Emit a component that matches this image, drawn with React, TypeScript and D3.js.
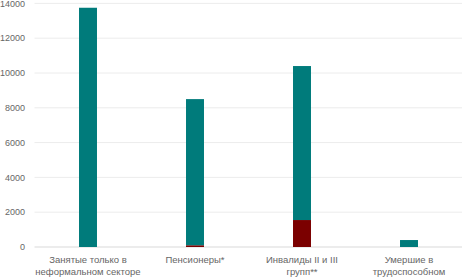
import React from 'react';
import { scaleLinear, scaleBand, stack, range } from 'd3';

const categories = [
  ['Занятые только в', 'неформальном секторе'],
  ['Пенсионеры*'],
  ['Инвалиды II и III', 'групп**'],
  ['Умершие в', 'трудоспособном'],
];
const redValues = [0, 100, 1550, 0];
const tealValues = [13750, 8400, 8850, 400];
const yTicks = [0, 2000, 4000, 6000, 8000, 10000, 12000, 14000];

const width = 462;
const height = 278;
const left = 34.5;
const top = 3.4;
const bottom = 247;

const App = () => {
  const rows = categories.map((c, i) => ({ key: i, red: redValues[i], teal: tealValues[i] }));
  const series = stack<any>().keys(['red', 'teal'])(rows);
  const colors: Record<string, string> = { red: '#7b0000', teal: '#007b7b' };

  const x = scaleBand<number>()
    .domain(range(categories.length))
    .range([left, left + 107 * 4])
    .paddingInner(0.832)
    .paddingOuter(0.416);

  const y = scaleLinear().domain([0, 14000]).range([bottom, top]);

  return (
    <svg width={width} height={height} style={{ position: 'absolute', left: 0, top: 0 }}
      fontFamily="'Liberation Sans', Arial, sans-serif">
      {yTicks.map(t => (
        <g key={t}>
          <line x1={left} x2={width} y1={y(t)} y2={y(t)} stroke={t === 0 ? '#d9d9d9' : '#ececec'} strokeWidth={1} />
          <text x={25} y={y(t) + 3.2} textAnchor="end" fontSize={9} fill="#666666">{t}</text>
        </g>
      ))}
      {series.map(s => s.map((d, i) => (
        <rect
          key={s.key + i}
          x={x(i)}
          y={y(d[1])}
          width={x.bandwidth()}
          height={y(d[0]) - y(d[1])}
          fill={colors[s.key]}
        />
      )))}
      {categories.map((lines, i) => (
        <text key={i} textAnchor="middle" fontSize={9.5} fill="#666666">
          {lines.map((l, j) => (
            <tspan key={j} x={(x(i) as number) + x.bandwidth() / 2} y={263 + j * 12}>{l}</tspan>
          ))}
        </text>
      ))}
    </svg>
  );
};

export default App;
